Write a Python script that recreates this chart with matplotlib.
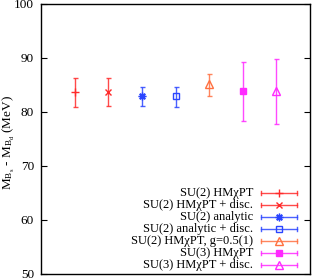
import matplotlib
matplotlib.use("Agg")
import matplotlib.pyplot as plt
import numpy as np

plt.rcParams['font.family'] = ['Liberation Serif', 'DejaVu Serif']
plt.rcParams['mathtext.fontset'] = 'custom'
plt.rcParams['mathtext.rm'] = 'Liberation Serif'
plt.rcParams['mathtext.it'] = 'Liberation Serif:italic'

labels = ["SU(2) HM\u03c7PT", "SU(2) HM\u03c7PT + disc.", "SU(2) analytic",
          "SU(2) analytic + disc.", "SU(2) HM\u03c7PT, g=0.5(1)",
          "SU(3) HM\u03c7PT", "SU(3) HM\u03c7PT + disc."]
values = [83.6, 83.7, 82.9, 83.0, 85.1, 83.8, 83.9]
err_up = [2.6, 2.6, 1.8, 1.6, 2.0, 5.4, 5.9]
err_dn = [2.6, 2.6, 1.8, 2.0, 2.1, 5.5, 6.2]

colors = ['#ff2a2a', '#ff2a2a', '#2a45ff', '#2a45ff', '#ff7040', '#ff2aff', '#ff2aff']
markers = ['+', 'x', (8, 2, 0), 's', '^', 's', '^']
filled = [True, True, True, False, False, True, False]
msizes = [5.5, 5, 5.5, 5, 5.5, 5, 5.5]

fig = plt.figure(figsize=(3.12, 2.79), dpi=100)
ax = fig.add_axes([0.131, 0.018, 0.863, 0.968])

x = np.arange(1, len(values) + 1)
for i in range(len(values)):
    fc = colors[i] if filled[i] else 'none'
    ax.errorbar(x[i], values[i], yerr=[[err_dn[i]], [err_up[i]]], fmt='none',
                ecolor=colors[i], elinewidth=1.0, capsize=1.8, capthick=1.0, alpha=0.85)
    ax.plot(x[i], values[i], marker=markers[i], color=colors[i], mfc=fc,
            mec=colors[i], ms=msizes[i], mew=1.0, ls='none')

ax.set_xlim(0, 8)
ax.set_ylim(50, 100)
ax.set_xticks([])
ax.set_yticks(np.arange(50, 101, 10))
ax.tick_params(axis='y', direction='in', right=True, length=4, labelsize=9.5, pad=5)
for s in ax.spines.values():
    s.set_linewidth(1.0)
ax.set_ylabel(r"M$_{\mathrm{B_s}}$ - M$_{\mathrm{B_d}}$ (MeV)", fontsize=9.5)
ax.yaxis.set_label_coords(-0.088, 0.485)

# key, gnuplot style
y0, dy = 0.30, 0.0445
x1, x2, xt = 0.818, 0.952, 0.788
for i, lab in enumerate(labels):
    y = y0 - i * dy
    fc = colors[i] if filled[i] else 'none'
    ax.text(xt, y, lab, transform=ax.transAxes, ha='right', va='center', fontsize=9)
    ax.plot([x1, x2], [y, y], transform=ax.transAxes, color=colors[i], lw=1.0, alpha=0.85)
    for xe in (x1, x2):
        ax.plot([xe, xe], [y - 0.008, y + 0.008], transform=ax.transAxes,
                color=colors[i], lw=1.0, alpha=0.85)
    ax.plot([(x1 + x2) / 2], [y], transform=ax.transAxes, marker=markers[i],
            color=colors[i], mfc=fc, mec=colors[i], ms=msizes[i], mew=1.0, ls='none')

fig.savefig("out.png", dpi=100)
